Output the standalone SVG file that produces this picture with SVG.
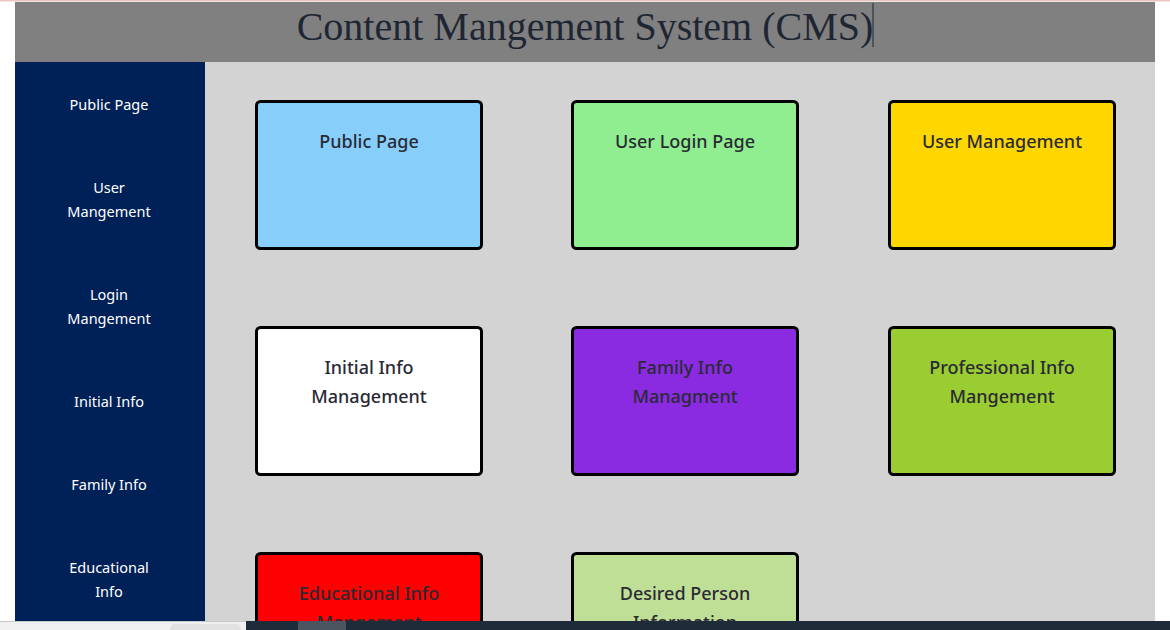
<svg xmlns="http://www.w3.org/2000/svg" width="1170" height="630" viewBox="0 0 1170 630">
<style>
.side{font-family:"Noto Sans","Open Sans",sans-serif;font-size:14.5px;fill:#ffffff;text-anchor:middle}
.box{stroke:#000;stroke-width:3}
.lbl{font-family:"Noto Sans","Open Sans",sans-serif;font-size:18px;font-weight:500;fill:#2a2a35;text-anchor:middle}
</style>
<rect x="0" y="0" width="1170" height="630" fill="#ffffff"/>
<rect x="0" y="0" width="1170" height="1.5" fill="#e8c8c0"/>
<g id="header">
<rect x="15" y="2" width="1140" height="60" fill="#808080"/>
<text x="585" y="40" font-family="'Liberation Serif','Times New Roman',serif" font-size="40" fill="#1f2633" text-anchor="middle">Content Mangement System (CMS)</text>
<rect x="872.5" y="3" width="1" height="44" fill="#1f2633"/>
</g>
<g id="sidebar">
<rect x="15" y="62" width="190" height="560" fill="#002157"/>
<text class="side" x="109" y="110">Public Page</text>
<text class="side" x="109" y="193">User</text>
<text class="side" x="109" y="217">Mangement</text>
<text class="side" x="109" y="300">Login</text>
<text class="side" x="109" y="324">Mangement</text>
<text class="side" x="109" y="407">Initial Info</text>
<text class="side" x="109" y="490">Family Info</text>
<text class="side" x="109" y="573">Educational</text>
<text class="side" x="109" y="597">Info</text>
</g>
<rect x="205" y="62" width="950" height="560" fill="#d3d3d3"/>
<g id="public-page">
<rect class="box" x="256.5" y="101.5" width="225" height="147" rx="4" fill="#87cefa"/>
<text class="lbl" x="369" y="148">Public Page</text>
</g>
<g id="user-login-page">
<rect class="box" x="572.5" y="101.5" width="225" height="147" rx="4" fill="#90ee90"/>
<text class="lbl" x="685" y="148">User Login Page</text>
</g>
<g id="user-management">
<rect class="box" x="889.5" y="101.5" width="225" height="147" rx="4" fill="#ffd700"/>
<text class="lbl" x="1002" y="148">User Management</text>
</g>
<g id="initial-info">
<rect class="box" x="256.5" y="327.5" width="225" height="147" rx="4" fill="#ffffff"/>
<text class="lbl" x="369" y="374">Initial Info</text>
<text class="lbl" x="369" y="403">Management</text>
</g>
<g id="family-info">
<rect class="box" x="572.5" y="327.5" width="225" height="147" rx="4" fill="#8a2be2"/>
<text class="lbl" x="685" y="374">Family Info</text>
<text class="lbl" x="685" y="403">Managment</text>
</g>
<g id="professional-info">
<rect class="box" x="889.5" y="327.5" width="225" height="147" rx="4" fill="#9acd32"/>
<text class="lbl" x="1002" y="374">Professional Info</text>
<text class="lbl" x="1002" y="403">Mangement</text>
</g>
<g id="educational-info">
<rect class="box" x="256.5" y="553.5" width="225" height="147" rx="4" fill="#ff0000"/>
<text class="lbl" x="369" y="600">Educational Info</text>
<text class="lbl" x="369" y="629">Mangement</text>
</g>
<g id="desired-person">
<rect class="box" x="572.5" y="553.5" width="225" height="147" rx="4" fill="#c0df96"/>
<text class="lbl" x="685" y="600">Desired Person</text>
<text class="lbl" x="685" y="629">Information</text>
</g>
<g id="connectors"></g>
<g id="taskbar">
<rect x="0" y="621" width="246" height="9" fill="#f0f0f0"/>
<rect x="0" y="621" width="246" height="1" fill="#c8c8c8"/>
<rect x="170" y="624" width="71" height="10" rx="5" fill="#e2e2e2"/>
<rect x="246" y="621" width="924" height="9" fill="#1e2b39"/>
<rect x="298" y="621" width="48" height="9" fill="#4a5560"/>
</g>
</svg>
